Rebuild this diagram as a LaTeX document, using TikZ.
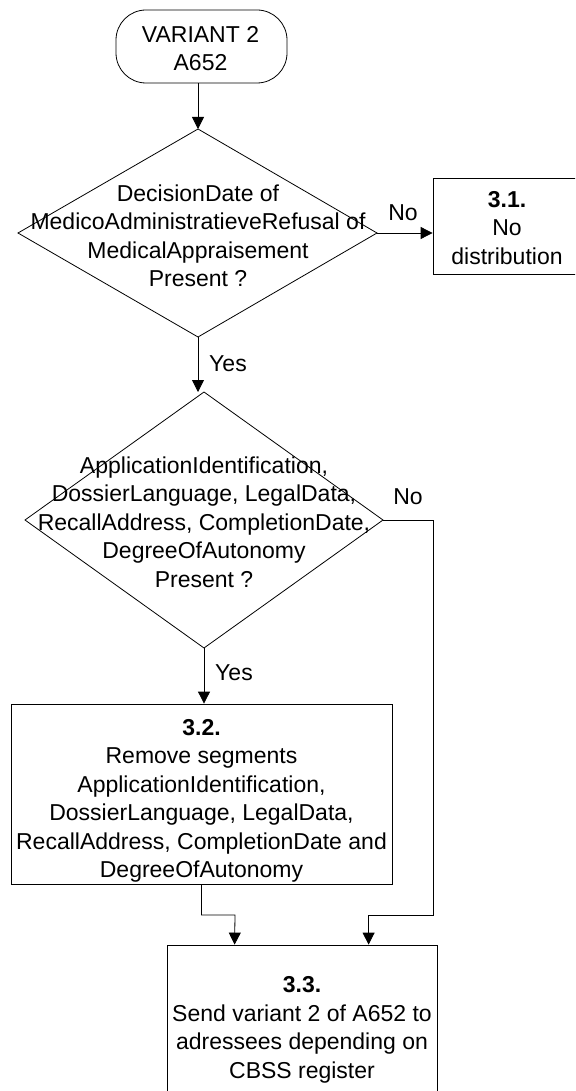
\documentclass[tikz,border=0pt]{standalone}
\usepackage{fontspec}
\setmainfont{Liberation Sans}
\usetikzlibrary{arrows.meta,calc}
\begin{document}
\begin{tikzpicture}[x=1pt,y=-1pt,
  txt/.style={align=center,inner sep=0pt,font=\fontsize{23}{28.5}\selectfont},
  boxnode/.style={txt,draw,line width=0.8pt},
  shp/.style={line width=0.8pt},
  arr/.style={line width=0.8pt,-{Triangle[length=12pt,width=12pt]}},
  conn/.style={line width=0.8pt}]
\clip (0,0) rectangle (575,1091);
\fill[white] (0,0) rectangle (575,1091);
% terminal
\node[boxnode,rounded corners=30pt,minimum width=171pt,minimum height=73pt] (t) at (201.5,46.5) {};
\node[txt] (tt) at (200.5,48.5) {VARIANT 2\\A652};
% diamond 1
\coordinate (d1n) at (198,129);
\coordinate (d1e) at (377,233);
\coordinate (d1s) at (198,337);
\coordinate (d1w) at (18,233);
\draw[shp] (d1n) -- (d1e) -- (d1s) -- (d1w) -- cycle;
\node[txt] (d1) at (198,236) {DecisionDate of\\MedicoAdministratieveRefusal of\\MedicalAppraisement\\Present ?};
% box 3.1
\node[boxnode,minimum width=148pt,minimum height=96pt] (b31) at (507,226) {};
\node[txt] (b31t) at (507,228) {\textbf{3.1.}\\No\\distribution};
% diamond 2
\coordinate (d2n) at (204,392);
\coordinate (d2e) at (383,520);
\coordinate (d2s) at (204,648);
\coordinate (d2w) at (25,520);
\draw[shp] (d2n) -- (d2e) -- (d2s) -- (d2w) -- cycle;
\node[txt] (d2) at (204,522) {ApplicationIdentification,\\DossierLanguage, LegalData,\\RecallAddress, CompletionDate,\\DegreeOfAutonomy\\Present ?};
% box 3.2
\node[boxnode,minimum width=381pt,minimum height=180pt] (b32) at (201.5,794) {};
\node[txt] (b32t) at (201.5,801) {\textbf{3.2.}\\Remove segments\\ApplicationIdentification,\\DossierLanguage, LegalData,\\RecallAddress, CompletionDate and\\DegreeOfAutonomy};
% box 3.3
\node[boxnode,minimum width=270pt,minimum height=157pt] (b33) at (302,1023.5) {};
\node[txt] (b33t) at (302,1030) {\textbf{3.3.}\\Send variant 2 of A652 to\\adressees depending on\\CBSS register};
% labels
\node[txt] (no1) at (403,213) {No};
\node[txt] (yes1) at (228,364) {Yes};
\node[txt] (no2) at (408,497) {No};
\node[txt] (yes2) at (234,673) {Yes};
% connectors
\draw[arr] (t.south -| d1n) -- (d1n);
\draw[arr] (d1s) -- (d1s |- d2n);
\draw[arr] (d1e) -- (d1e -| b31.west);
\draw[arr] (d2s) -- (d2s |- b32.north);
\coordinate (k1) at (433,915);
\coordinate (k2) at (235,915);
\draw[arr] (d2e) -| (k1) -| ([xshift=202pt]b33.north west);
\draw[arr] (b32.south) |- (k2) -- ([xshift=68pt]b33.north west);
\end{tikzpicture}
\end{document}
